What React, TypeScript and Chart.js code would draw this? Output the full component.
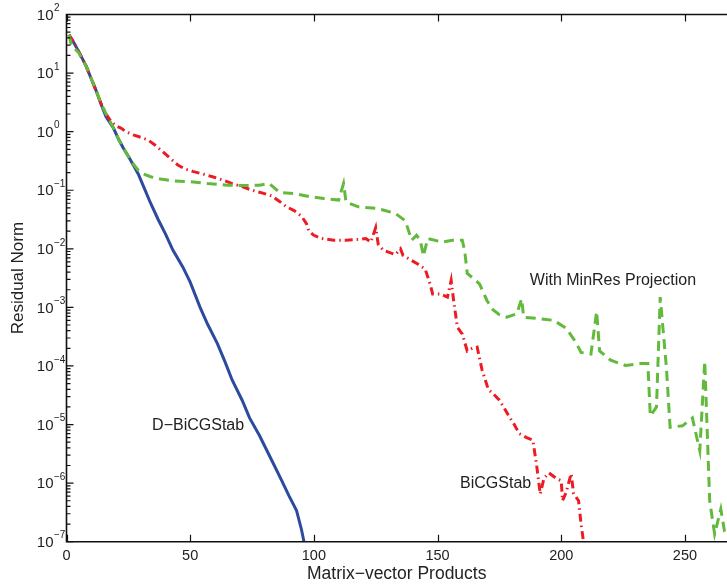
import React, { useEffect, useRef } from "react";
import { Chart, registerables } from "chart.js";

Chart.register(...registerables);

// D−BiCGStab (blue, solid)
const dBiX = [1, 3, 5, 8, 10, 12, 14, 16, 19, 21, 23, 25, 27, 29, 31, 34, 37, 40, 43, 47, 50, 54, 57, 61, 64, 67, 71, 74, 78, 81, 84, 87, 90, 93, 95, 96];
const dBiY = [45, 33, 23, 13, 8, 5, 2.9, 1.8, 1.15, 0.75, 0.52, 0.38, 0.27, 0.19, 0.12, 0.06, 0.032, 0.018, 0.0095, 0.0049, 0.0027, 0.001, 5.2e-4, 2.4e-4, 1.2e-4, 5.7e-5, 2.6e-5, 1.3e-5, 6.5e-6, 3.6e-6, 2e-6, 1.1e-6, 6e-7, 3.4e-7, 1.6e-7, 1e-7];

// BiCGStab (red, dash-dot)
const biX = [1, 3, 5, 8, 10, 12, 14, 16, 18, 20, 22, 24, 27, 30, 33, 36, 39, 42, 45, 48, 51, 55, 59, 63, 67, 71, 75, 79, 83, 86, 89, 92, 95, 97, 98, 100, 103, 108, 113, 118, 121, 123, 125, 126, 128, 131, 133, 135, 136, 139, 142, 145, 147, 148, 151, 154, 155.5, 156.5, 158, 160, 162, 164, 166, 168, 170.5, 173, 175, 177, 179, 181, 183, 186, 188.5, 190, 191.5, 193, 195, 198, 200, 200.5, 202, 204, 205, 207, 208, 209];
const biY = [45, 33, 23, 13, 8, 5, 3, 2, 1.5, 1.25, 1.15, 1.0, 0.88, 0.8, 0.72, 0.58, 0.45, 0.35, 0.27, 0.23, 0.21, 0.19, 0.17, 0.15, 0.13, 0.115, 0.1, 0.09, 0.08, 0.065, 0.052, 0.045, 0.036, 0.027, 0.02, 0.017, 0.015, 0.014, 0.014, 0.0145, 0.015, 0.013, 0.023, 0.012, 0.0095, 0.0085, 0.008, 0.01, 0.0078, 0.0065, 0.0055, 0.0045, 0.0025, 0.0017, 0.0017, 0.0015, 0.0029, 0.0013, 4.6e-4, 3.5e-4, 1.8e-4, 2e-4, 2.1e-4, 8.5e-5, 4e-5, 3.2e-5, 2.6e-5, 1.9e-5, 1.35e-5, 1e-5, 7e-6, 6e-6, 5.4e-6, 2.1e-6, 6.5e-7, 1.2e-6, 1.5e-6, 1.2e-6, 1.1e-6, 5e-7, 7e-7, 1.45e-6, 6.6e-7, 5e-7, 2e-7, 1e-7];

// With MinRes Projection (green, dashed)
const mrX = [1, 2, 3, 5, 8, 10, 12, 14, 16, 19, 21, 23, 25, 27, 29, 31, 34, 38, 43, 50, 57, 65, 72, 78, 82, 84, 86, 92, 98, 104, 110, 112, 113, 118, 125, 128, 133, 137, 139.5, 141.5, 143, 144.3, 146, 152, 156, 160, 161, 162, 165, 167, 170, 172.5, 175, 178, 182, 184, 184.8, 190, 197, 202, 206, 208, 212, 214.3, 215.5, 220, 226, 232, 235, 236, 238.5, 240, 242.5, 244, 249, 253, 256, 258, 260, 262, 264.5, 266, 270];
const mrY = [45, 30, 27, 22, 13, 8, 5, 3, 2, 1.15, 0.75, 0.52, 0.38, 0.28, 0.22, 0.19, 0.17, 0.155, 0.145, 0.14, 0.13, 0.122, 0.12, 0.122, 0.13, 0.11, 0.092, 0.088, 0.078, 0.072, 0.068, 0.13, 0.063, 0.052, 0.049, 0.046, 0.04, 0.03, 0.014, 0.017, 0.014, 0.0075, 0.015, 0.013, 0.014, 0.014, 0.009, 0.0038, 0.003, 0.0025, 0.0013, 9e-4, 7.5e-4, 6.8e-4, 7.8e-4, 0.0014, 6.8e-4, 6.5e-4, 6e-4, 4.4e-4, 2.5e-4, 1.7e-4, 1.6e-4, 8.5e-4, 1.8e-4, 1.25e-4, 1.02e-4, 1.1e-4, 1.1e-4, 1.4e-5, 2e-5, 1.5e-3, 9.5e-5, 9e-6, 9.5e-6, 1.3e-5, 3.6e-6, 1.2e-4, 5e-7, 1.35e-7, 3.6e-7, 1.5e-7, 1e-7];

const xTickValues = [0, 50, 100, 150, 200, 250];
const yTickValues = [1e2, 1e1, 1e0, 1e-1, 1e-2, 1e-3, 1e-4, 1e-5, 1e-6, 1e-7];
const yTickBase = "10";
const yTickExps = ["2", "1", "0", "−1", "−2", "−3", "−4", "−5", "−6", "−7"];

const annoTexts = ["D−BiCGStab", "BiCGStab", "With MinRes Projection"];
const annoX = [34.6, 159.1, 187.3];
const annoY = [9.6e-6, 9.8e-7, 2.9e-3];

const xTitle = "Matrix−vector Products";
const yTitle = "Residual Norm";

const FONT = "'Liberation Sans', Arial, 'DejaVu Sans', sans-serif";
const TEXT = "#222222";

const toPts = (xs: number[], ys: number[]) => xs.map((x, i) => ({ x, y: ys[i] }));

const boxPlugin = {
  id: "matlabBox",
  afterDraw(chart: any) {
    const { ctx, chartArea } = chart;
    const { left, right, top, bottom } = chartArea;
    const xs = chart.scales.x;
    const ys = chart.scales.y;
    ctx.save();
    ctx.strokeStyle = "#111111";
    ctx.lineWidth = 1.6;
    ctx.beginPath();
    ctx.moveTo(right + 2, top);
    ctx.lineTo(left, top);
    ctx.lineTo(left, bottom);
    ctx.lineTo(right + 2, bottom);
    ctx.stroke();
    ctx.lineWidth = 1.2;
    ctx.beginPath();
    for (const v of xTickValues) {
      const px = Math.round(xs.getPixelForValue(v)) + 0.5;
      ctx.moveTo(px, bottom);
      ctx.lineTo(px, bottom - 7);
      ctx.moveTo(px, top);
      ctx.lineTo(px, top + 7);
    }
    for (let e = -7; e <= 2; e++) {
      const py = ys.getPixelForValue(Math.pow(10, e));
      ctx.moveTo(left, py);
      ctx.lineTo(left + 7, py);
      if (e < 2) {
        for (let m = 2; m <= 9; m++) {
          const pm = ys.getPixelForValue(m * Math.pow(10, e));
          ctx.moveTo(left, pm);
          ctx.lineTo(left + 4, pm);
        }
      }
    }
    ctx.stroke();
    // y tick labels: 10 with superscript exponent
    ctx.fillStyle = TEXT;
    ctx.textBaseline = "middle";
    yTickValues.forEach((v, i) => {
      const py = ys.getPixelForValue(v);
      ctx.font = `15px ${FONT}`;
      ctx.textAlign = "right";
      ctx.fillText(yTickBase, left - 13, py + 1);
      ctx.font = `10px ${FONT}`;
      ctx.textAlign = "left";
      ctx.fillText(yTickExps[i], left - 12.5, py - 6);
    });
    // annotations
    ctx.font = `16px ${FONT}`;
    ctx.textAlign = "left";
    ctx.textBaseline = "middle";
    annoTexts.forEach((t, i) => {
      ctx.fillText(t, xs.getPixelForValue(annoX[i]), ys.getPixelForValue(annoY[i]));
    });
    ctx.restore();
  },
};

export default function App() {
  const ref = useRef<HTMLCanvasElement | null>(null);
  useEffect(() => {
    document.body.style.margin = "0";
    document.body.style.background = "#ffffff";
    const canvas = ref.current!;
    const chart = new Chart(canvas, {
      type: "line",
      data: {
        datasets: [
          {
            label: "With MinRes Projection",
            data: toPts(mrX, mrY),
            borderColor: "#62b93c",
            borderWidth: 3,
            borderDash: [10, 6],
            pointRadius: 0,
            tension: 0,
            fill: false,
          },
          {
            label: "BiCGStab",
            data: toPts(biX, biY),
            borderColor: "#ec1c24",
            borderWidth: 3,
            borderDash: [8, 4, 1.5, 4],
            pointRadius: 0,
            tension: 0,
            fill: false,
          },
          {
            label: "D−BiCGStab",
            data: toPts(dBiX, dBiY),
            borderColor: "#2d4b9e",
            borderWidth: 3,
            pointRadius: 0,
            tension: 0,
            fill: false,
          },
        ],
      },
      options: {
        responsive: false,
        animation: false,
        devicePixelRatio: 1,
        layout: { padding: { top: 14.5, right: 0, bottom: 0, left: 0 } },
        plugins: { legend: { display: false }, tooltip: { enabled: false } },
        scales: {
          x: {
            type: "linear",
            min: 0,
            max: 267,
            grid: { display: false, drawTicks: false },
            border: { display: false },
            afterBuildTicks: (s: any) => {
              s.ticks = xTickValues.map((v) => ({ value: v }));
            },
            afterFit: (s: any) => {
              s.height = 43.3;
            },
            ticks: {
              autoSkip: false,
              maxRotation: 0,
              padding: 6,
              color: TEXT,
              font: { family: FONT, size: 14.5 },
            },
            title: {
              display: true,
              text: xTitle,
              color: TEXT,
              font: { family: FONT, size: 17.5 },
              padding: { top: 0, bottom: 0 },
            },
          },
          y: {
            type: "logarithmic",
            min: 1e-7,
            max: 1e2,
            grid: { display: false, drawTicks: false },
            border: { display: false },
            afterBuildTicks: (s: any) => {
              s.ticks = yTickValues.map((v) => ({ value: v }));
            },
            afterFit: (s: any) => {
              s.width = 66.5;
            },
            ticks: { display: false },
            title: {
              display: true,
              text: yTitle,
              color: TEXT,
              font: { family: FONT, size: 17 },
              padding: { top: 8, bottom: 0 },
            },
          },
        },
      },
      plugins: [boxPlugin],
    } as any);
    return () => chart.destroy();
  }, []);
  return (
    <div style={{ width: 727, height: 585, position: "relative" }}>
      <canvas ref={ref} width={727} height={585} style={{ display: "block" }} />
    </div>
  );
}
